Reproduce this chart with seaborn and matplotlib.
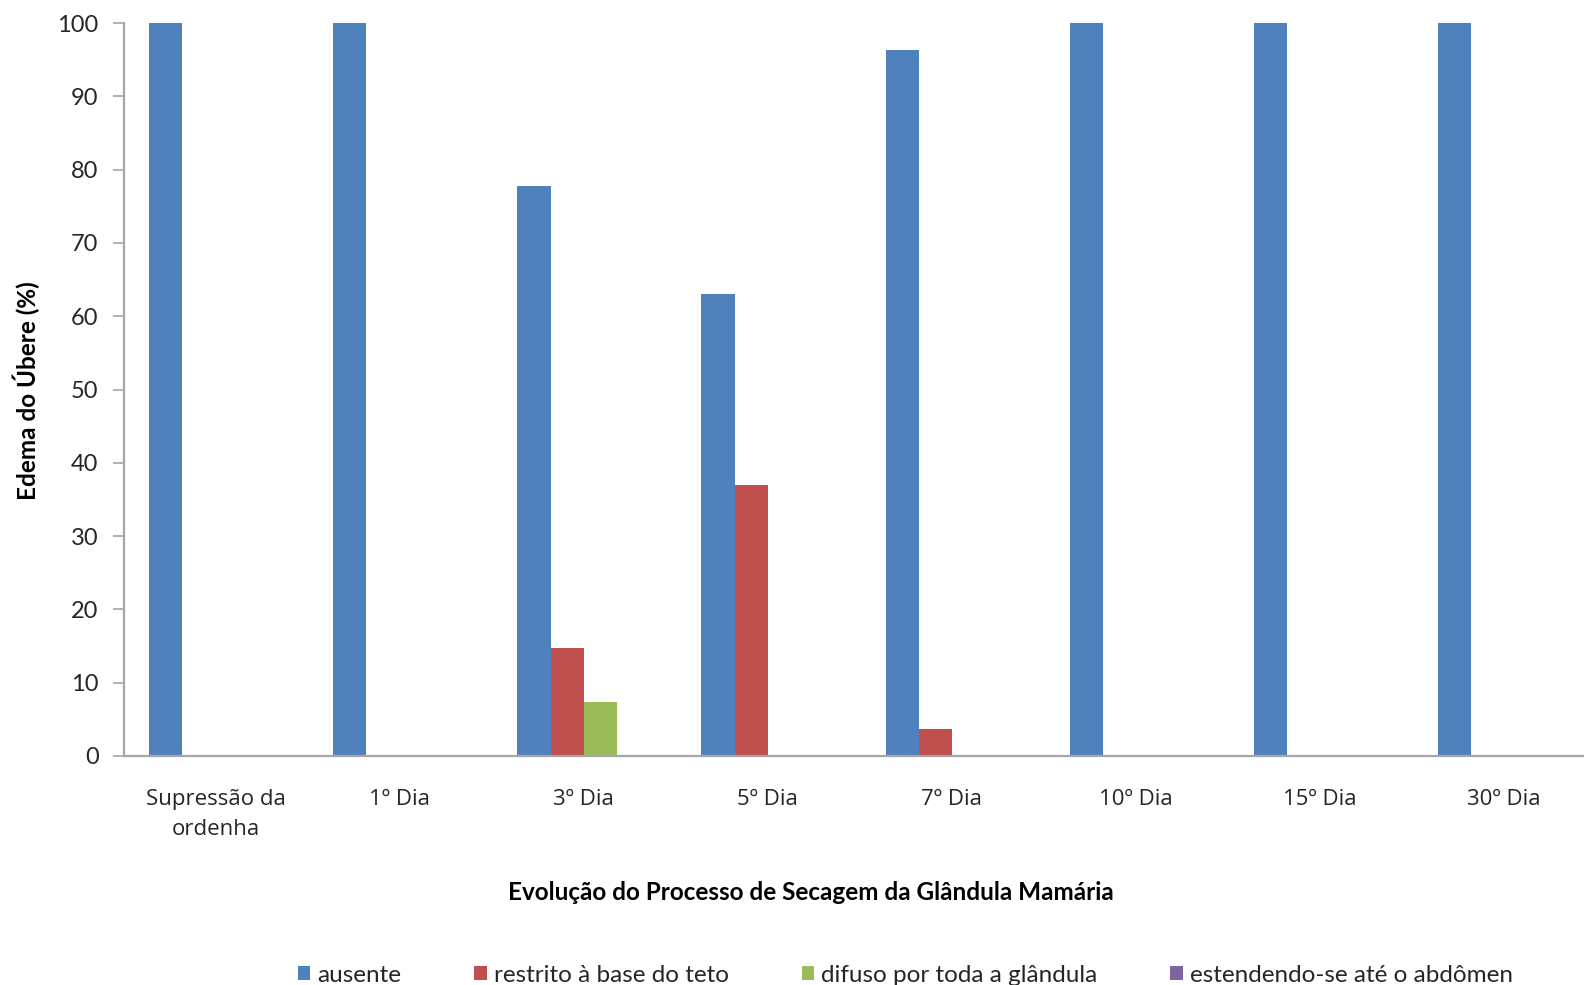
import matplotlib
matplotlib.use("Agg")
import matplotlib.pyplot as plt
import seaborn as sns
import pandas as pd

# Category labels (stages of the drying-off process)
stages = ["Supressão da\nordenha", "1º Dia", "3º Dia", "5º Dia",
          "7º Dia", "10º Dia", "15º Dia", "30º Dia"]

# Udder oedema scores, percentage of animals per stage
ausente = [100, 100, 77.8, 63.0, 96.3, 100, 100, 100]
restrito = [0, 0, 14.8, 37.0, 3.7, 0, 0, 0]
difuso = [0, 0, 7.4, 0, 0, 0, 0, 0]
abdomen = [0, 0, 0, 0, 0, 0, 0, 0]

series_names = ["ausente", "restrito à base do teto",
                "difuso por toda a glândula", "estendendo-se até o abdômen"]
series_values = [ausente, restrito, difuso, abdomen]
palette = ["#4F81BD", "#C0504D", "#9BBB59", "#8064A2"]

rows = []
for name, vals in zip(series_names, series_values):
    for stage, v in zip(stages, vals):
        rows.append({"Etapa": stage, "Grau": name, "Valor": v})
df = pd.DataFrame(rows)

sns.set_theme(style="white")
plt.rcParams["font.family"] = ["Lato", "DejaVu Sans"]

W, H = 1584, 985
fig = plt.figure(figsize=(W / 100, H / 100), dpi=100)
ax = fig.add_axes([123.5 / W, 1 - 756 / H, (1596 - 123.5) / W, (756 - 23) / H])

sns.barplot(data=df, x="Etapa", y="Valor", hue="Grau", order=stages,
            hue_order=series_names, palette=palette, width=0.72,
            linewidth=0, saturation=1, errorbar=None, ax=ax)

ax.set_xlim(-0.5, 7.5)
ax.set_ylim(0, 100)
ax.set_yticks(range(0, 101, 10))
ax.set_xlabel("")
ax.set_ylabel("")

text_color = "#262626"
ax.tick_params(axis="y", which="both", left=True, length=8, width=1.2,
               color="#A6A6A6", pad=10, labelsize=17, labelcolor=text_color)
ax.tick_params(axis="x", which="both", bottom=False, pad=18,
               labelsize=16, labelcolor=text_color)
for lbl in ax.get_xticklabels():
    lbl.set_linespacing(1.55)
    lbl.set_family(["Open Sans", "DejaVu Sans"])

for side in ["top", "right"]:
    ax.spines[side].set_visible(False)
for side in ["left", "bottom"]:
    ax.spines[side].set_color("#A6A6A6")
    ax.spines[side].set_linewidth(1.6)

fig.text(26 / W, 1 - 391 / H, "Edema do Úbere (%)", rotation=90,
         ha="center", va="center", fontsize=17.5, fontweight="bold",
         color="#000000")
fig.text(811 / W, 1 - 892 / H, "Evolução do Processo de Secagem da Glândula Mamária",
         ha="center", va="center", fontsize=17.5, fontweight="bold",
         color="#000000")

leg = ax.legend(loc="center", bbox_to_anchor=(905.5 / W, 10 / H),
                bbox_transform=fig.transFigure, ncol=4, frameon=False,
                fontsize=17.5, handlelength=0.5, handleheight=0.5,
                handletextpad=0.3, columnspacing=3.0, borderaxespad=0)
for t in leg.get_texts():
    t.set_color(text_color)

fig.savefig("out.png", dpi=100, facecolor="white")
